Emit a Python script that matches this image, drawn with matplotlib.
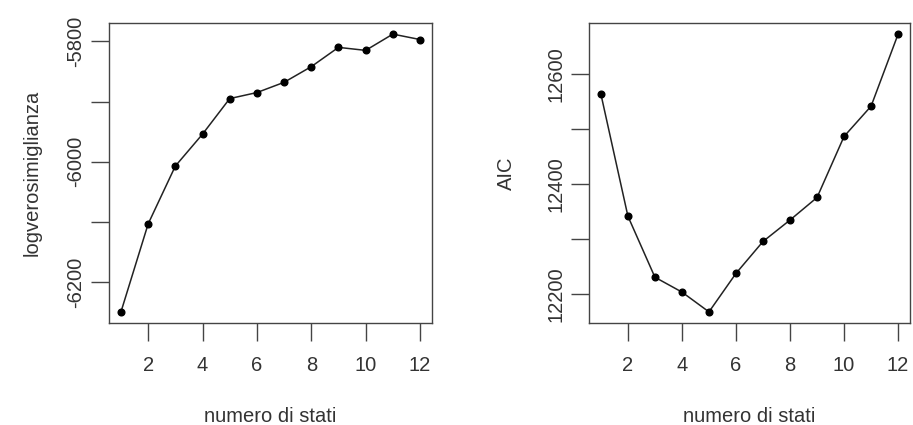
import matplotlib
matplotlib.use("Agg")
import matplotlib.pyplot as plt

# values
n_stati = [1, 2, 3, 4, 5, 6, 7, 8, 9, 10, 11, 12]
loglik = [-6249, -6103, -6007, -5954, -5895, -5885, -5868, -5842, -5810, -5815, -5788, -5797]
aic = [12564, 12342, 12231, 12204, 12168, 12238, 12296, 12335, 12376, 12487, 12542, 12673]

x_ticks = [2, 4, 6, 8, 10, 12]
ll_ticks = [-6200, -6100, -6000, -5900, -5800]
ll_labels = ["-6200", "", "-6000", "", "-5800"]
aic_ticks = [12200, 12300, 12400, 12500, 12600]
aic_labels = ["12200", "", "12400", "", "12600"]

plt.rcParams['font.family'] = ['Liberation Sans', 'DejaVu Sans']
TXT = "#333333"
FS = 14.5

fig = plt.figure(figsize=(9.13, 4.25), dpi=100)
W, H = 913, 425


def make_axes(x0, x1, y0, y1):
    return fig.add_axes([x0 / W, 1 - y1 / H, (x1 - x0) / W, (y1 - y0) / H])


def style(ax, y, yticks, ylabels, ylabel, ylabel_pad):
    ax.plot(n_stati, y, color="#222222", lw=1.1, marker="o", ms=4.8,
            markerfacecolor="black", markeredgecolor="black")
    lo, hi = min(y), max(y)
    r = hi - lo
    ax.set_ylim(lo - 0.04 * r, hi + 0.04 * r)
    ax.set_xlim(1 - 0.04 * 11, 12 + 0.04 * 11)
    ax.set_xticks(x_ticks)
    ax.set_xticklabels([str(t) for t in x_ticks], fontsize=FS, color=TXT)
    ax.set_yticks(yticks)
    ax.set_yticklabels(ylabels, fontsize=FS, color=TXT, rotation=90, va="center")
    ax.tick_params(axis="both", length=13, width=1.0, color="#444444", direction="out")
    ax.tick_params(axis="x", pad=11)
    ax.tick_params(axis="y", pad=4)
    for s in ax.spines.values():
        s.set_color("#444444")
        s.set_linewidth(1.0)
    ax.set_xlabel("numero di stati", fontsize=FS, color=TXT, labelpad=23)
    ax.set_ylabel(ylabel, fontsize=FS, color=TXT, labelpad=ylabel_pad)


ax1 = make_axes(109, 432, 23, 323)
style(ax1, loglik, ll_ticks, ll_labels, "logverosimiglianza", 18)

ax2 = make_axes(589, 910, 23, 323)
style(ax2, aic, aic_ticks, aic_labels, "AIC", 22)

fig.savefig("out.png", dpi=100)
